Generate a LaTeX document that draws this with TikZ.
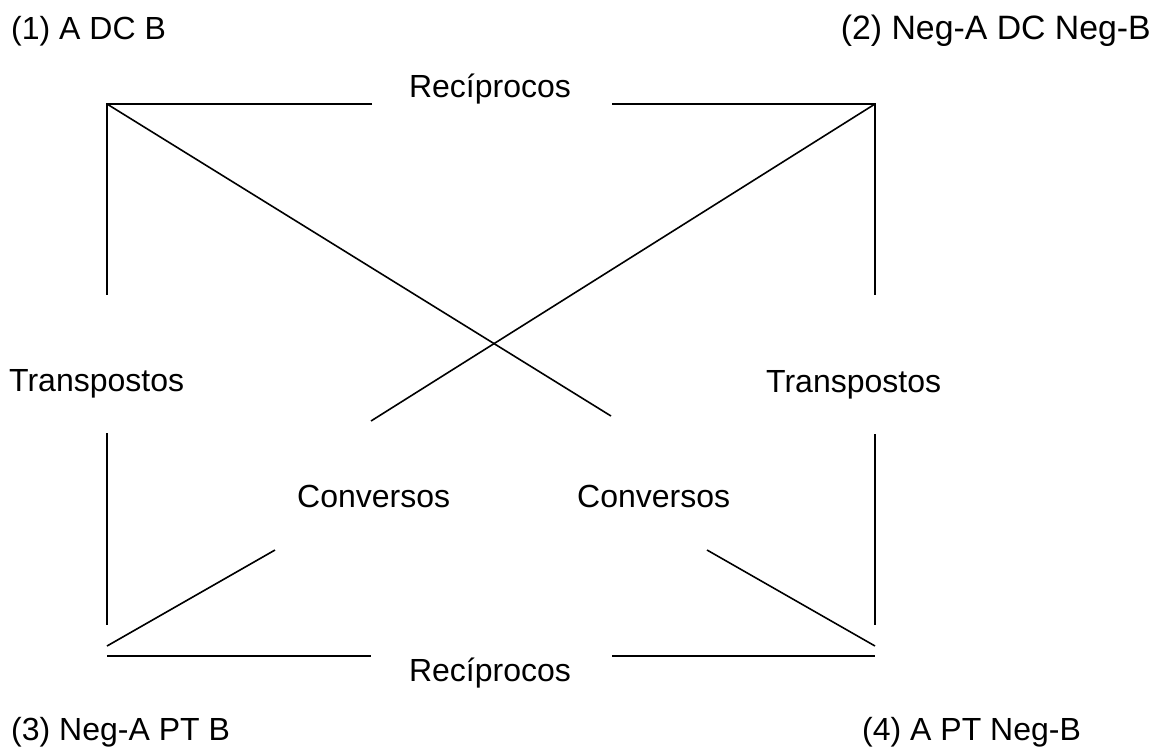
\documentclass[tikz,border=0pt]{standalone}
\usepackage{fontspec}
\setmainfont{Liberation Sans}
\tikzset{
  lbl/.style={inner sep=0pt, font=\fontsize{32}{38}\selectfont},
  lblwide/.style={inner sep=0pt, font=\fontsize{33.8}{40}\selectfont},
  ln/.style={line width=1.6pt, draw=black}
}
\begin{document}
\begin{tikzpicture}[x=1pt,y=-1pt]
\useasboundingbox (0,0) rectangle (1158,747);
% labels
\node[lbl,anchor=base west] (p1) at (11,39) {(1) A DC B};
\node[lblwide,anchor=base east] (p2) at (1151,39) {(2) Neg-A DC Neg-B};
\node[lbl,anchor=base west] (p3) at (11,740) {(3) Neg-A PT B};
\node[lbl,anchor=base west] (p4) at (862,740) {(4) A PT Neg-B};
\node[lbl,anchor=base] (rt) at (490,97) {Recíprocos};
\node[lbl,anchor=base] (rb) at (490,681) {Recíprocos};
\node[lbl,anchor=base west] (tl) at (9,391) {Transpostos};
\node[lbl,anchor=base west] (tr) at (766,392) {Transpostos};
\node[lbl,anchor=base west] (cl) at (297,507) {Conversos};
\node[lbl,anchor=base west] (cr) at (577,507) {Conversos};
% points
\coordinate (TL) at (107,104);
\coordinate (TR) at (875,104);
\coordinate (ta) at (372,104);
\coordinate (tb) at (612,104);
\coordinate (lva) at (107,295);
\coordinate (lvb) at (107,433);
\coordinate (lvc) at (107,625);
\coordinate (rva) at (875,295);
\coordinate (rvb) at (875,434);
\coordinate (rvc) at (875,625);
\coordinate (d1) at (611,416);
\coordinate (d2) at (371,421);
\coordinate (bl) at (107,646);
\coordinate (bla) at (275,550);
\coordinate (br) at (875,646);
\coordinate (bra) at (707,550);
\coordinate (hl) at (107,656);
\coordinate (hla) at (371,656);
\coordinate (hrb) at (612,656);
\coordinate (hr) at (875,656);
% connectors
\draw[ln] (ta) -- (TL) -- (lva);
\draw[ln] (tb) -- (TR) -- (rva);
\draw[ln] (lvb) -- (lvc);
\draw[ln] (rvb) -- (rvc);
\draw[ln] (TL) -- (d1);
\draw[ln] (TR) -- (d2);
\draw[ln] (bl) -- (bla);
\draw[ln] (br) -- (bra);
\draw[ln] (hl) -- (hla);
\draw[ln] (hrb) -- (hr);
\end{tikzpicture}
\end{document}
